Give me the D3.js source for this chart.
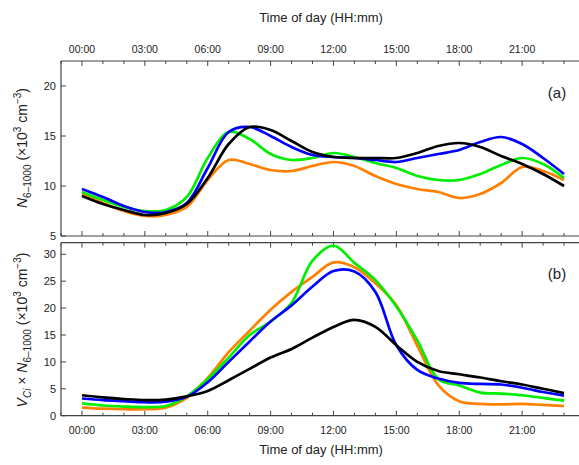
<!DOCTYPE html>
<html>
<head>
<meta charset="utf-8">
<script src="https://cdn.jsdelivr.net/npm/d3@7"></script>
<style>
  body { margin: 0; background: #fff; }
  svg { display: block; font-family: Arial, "Liberation Sans", sans-serif; }
</style>
</head>
<body>
<svg id="chart" width="579" height="465"></svg>
<script>
// Hour of day for each sample (hourly means)
const hours = d3.range(0, 24);

// Time axis ticks
const xMajorHours = [0, 3, 6, 9, 12, 15, 18, 21];
const xTickLabels = ["00:00", "03:00", "06:00", "09:00", "12:00", "15:00", "18:00", "21:00"];
const xMinorHours = d3.range(-1, 25);

// Panel (a): N6-1000 (x10^3 cm^-3)
const aTicks = [5, 10, 15, 20];
const aOrange = [9.2, 8.3, 7.5, 7.0, 7.1, 7.9, 10.6, 12.6, 12.2, 11.6, 11.5, 12.0, 12.4, 12.0, 11.0, 10.2, 9.7, 9.4, 8.8, 9.2, 10.3, 11.9, 11.5, 10.6];
const aGreen  = [9.4, 8.6, 7.9, 7.5, 7.6, 8.9, 12.8, 15.4, 14.7, 13.2, 12.6, 12.8, 13.3, 12.9, 12.3, 11.8, 11.0, 10.6, 10.6, 11.2, 12.1, 12.8, 12.2, 10.8];
const aBlue   = [9.7, 8.9, 8.0, 7.4, 7.4, 8.3, 11.8, 15.4, 15.9, 15.0, 13.9, 13.1, 12.9, 12.8, 12.6, 12.4, 12.8, 13.2, 13.6, 14.4, 14.9, 14.2, 12.8, 11.2];
const aBlack  = [9.0, 8.2, 7.6, 7.1, 7.3, 8.2, 10.8, 14.2, 15.9, 15.6, 14.5, 13.4, 12.9, 12.8, 12.8, 12.8, 13.3, 14.0, 14.3, 13.9, 13.0, 12.2, 11.2, 10.0];

// Panel (b): V_Ci x N6-1000 (x10^3 cm^-3)
const bTicks = [0, 5, 10, 15, 20, 25, 30];
const bOrange = [1.5, 1.3, 1.2, 1.2, 1.5, 3.3, 7.0, 11.8, 15.8, 19.7, 23.0, 25.8, 28.5, 27.6, 24.6, 20.5, 13.0, 5.7, 2.7, 2.2, 2.1, 2.2, 2.0, 1.8];
const bGreen  = [2.3, 1.9, 1.7, 1.6, 1.8, 3.6, 6.8, 10.8, 15.0, 17.5, 21.0, 28.8, 31.6, 28.4, 25.2, 20.3, 14.0, 6.8, 5.6, 4.3, 4.1, 3.8, 3.3, 2.8];
const bBlue   = [3.2, 2.9, 2.7, 2.5, 2.6, 3.5, 6.2, 10.0, 13.8, 17.5, 20.5, 24.0, 26.9, 26.8, 23.0, 13.1, 8.5, 6.9, 6.1, 5.9, 5.8, 5.2, 4.4, 3.7];
const bBlack  = [3.8, 3.4, 3.1, 2.9, 3.0, 3.6, 4.6, 6.6, 8.7, 10.8, 12.4, 14.5, 16.5, 17.8, 16.5, 13.1, 10.0, 8.3, 7.7, 7.1, 6.4, 5.8, 5.0, 4.2];

const colors = { orange: "#ff8000", green: "#00ee00", blue: "#0000ff", black: "#000000" };

const svg = d3.select("#chart");
const axisColor = "#444";

const x = d3.scaleLinear().domain([-1, 24]).range([61, 585]);
const yA = d3.scaleLinear().domain([5, 22.5]).range([236, 61]);
const yB = d3.scaleLinear().domain([0, 32.15]).range([415.7, 242.7]);

const line = (yScale) => d3.line()
  .x((d, i) => x(hours[i]))
  .y(d => yScale(d))
  .curve(d3.curveCatmullRom.alpha(0.5));

function hLine(yPos) {
  svg.append("line")
    .attr("x1", x.range()[0]).attr("x2", 579)
    .attr("y1", yPos).attr("y2", yPos)
    .attr("stroke", axisColor).attr("stroke-width", 1.2);
}

// Horizontal axis line with hour ticks pointing into the panel (dir = +1 down, -1 up)
function timeTicks(yPos, dir) {
  hLine(yPos);
  svg.append("g").selectAll("line").data(xMinorHours).join("line")
    .attr("x1", d => x(d)).attr("x2", d => x(d))
    .attr("y1", yPos)
    .attr("y2", d => yPos + dir * (xMajorHours.includes(d) ? 5 : 3))
    .attr("stroke", axisColor).attr("stroke-width", 1);
}

function timeLabels(yPos) {
  svg.append("g").selectAll("text").data(xMajorHours).join("text")
    .attr("x", d => x(d)).attr("y", yPos)
    .attr("text-anchor", "middle")
    .attr("dominant-baseline", "central")
    .attr("font-size", 10.5).attr("fill", "#222")
    .text((d, i) => xTickLabels[i]);
}

function valueAxis(yScale, ticks) {
  const [y0, y1] = yScale.range();
  svg.append("line")
    .attr("x1", x.range()[0]).attr("x2", x.range()[0])
    .attr("y1", y0).attr("y2", y1)
    .attr("stroke", axisColor).attr("stroke-width", 1.2);
  const g = svg.append("g");
  g.selectAll("line").data(ticks).join("line")
    .attr("x1", x.range()[0]).attr("x2", x.range()[0] + 5)
    .attr("y1", d => yScale(d)).attr("y2", d => yScale(d))
    .attr("stroke", axisColor).attr("stroke-width", 1);
  g.selectAll("text").data(ticks).join("text")
    .attr("x", x.range()[0] - 5).attr("y", d => yScale(d))
    .attr("text-anchor", "end")
    .attr("dominant-baseline", "central")
    .attr("font-size", 11).attr("fill", "#222")
    .text(d => d);
}

// Rich-text axis title built from segments: plain, italic, subscript, superscript
function richLabel(cx, cy, segments) {
  const t = svg.append("text")
    .attr("transform", `translate(${cx},${cy}) rotate(-90)`)
    .attr("text-anchor", "middle")
    .attr("font-size", 14).attr("fill", "#222");
  let shift = 0;
  segments.forEach(s => {
    const target = s.sub ? 4 : s.sup ? -6 : 0;
    const sp = t.append("tspan").text(s.t)
      .attr("dy", target - shift);
    shift = target;
    if (s.i) sp.attr("font-style", "italic");
    if (s.sub || s.sup) sp.attr("font-size", 10);
  });
}

// Panel frames and axes
timeTicks(yA.range()[1], 1);
timeLabels(49);
timeTicks(yA.range()[0], -1);
timeTicks(yB.range()[1], 1);
timeTicks(yB.range()[0], -1);
timeLabels(430);
valueAxis(yA, aTicks);
valueAxis(yB, bTicks);

// Data lines
const seriesA = [[aOrange, colors.orange], [aGreen, colors.green], [aBlue, colors.blue], [aBlack, colors.black]];
const seriesB = [[bOrange, colors.orange], [bGreen, colors.green], [bBlue, colors.blue], [bBlack, colors.black]];
seriesA.forEach(([vals, c]) => svg.append("path").datum(vals)
  .attr("d", line(yA)).attr("fill", "none").attr("stroke", c).attr("stroke-width", 2.7));
seriesB.forEach(([vals, c]) => svg.append("path").datum(vals)
  .attr("d", line(yB)).attr("fill", "none").attr("stroke", c).attr("stroke-width", 2.7));

// Titles
svg.append("text").attr("x", 321).attr("y", 17)
  .attr("text-anchor", "middle").attr("dominant-baseline", "central")
  .attr("font-size", 13).attr("fill", "#222").text("Time of day (HH:mm)");
svg.append("text").attr("x", 321).attr("y", 449)
  .attr("text-anchor", "middle").attr("dominant-baseline", "central")
  .attr("font-size", 13).attr("fill", "#222").text("Time of day (HH:mm)");

svg.append("text").attr("x", 557).attr("y", 92)
  .attr("text-anchor", "middle").attr("dominant-baseline", "central")
  .attr("font-size", 15).attr("fill", "#222").text("(a)");
svg.append("text").attr("x", 557).attr("y", 273)
  .attr("text-anchor", "middle").attr("dominant-baseline", "central")
  .attr("font-size", 15).attr("fill", "#222").text("(b)");

richLabel(27, 148, [
  { t: "N", i: true }, { t: "6\u20131000", sub: true },
  { t: " (\u00d710" }, { t: "3", sup: true }, { t: " cm" }, { t: "\u22123", sup: true }, { t: ")" }
]);
richLabel(27, 330, [
  { t: "V", i: true }, { t: "Ci", sub: true, i: true }, { t: " \u00d7 " },
  { t: "N", i: true }, { t: "6\u20131000", sub: true },
  { t: " (\u00d710" }, { t: "3", sup: true }, { t: " cm" }, { t: "\u22123", sup: true }, { t: ")" }
]);
</script>
</body>
</html>
